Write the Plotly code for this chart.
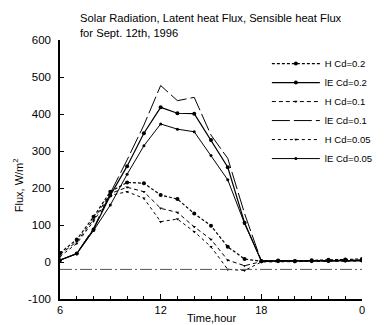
import plotly.graph_objects as go

hours = list(range(6, 25))
x_tickvals = [6, 12, 18, 24]
x_ticktext = ["6", "12", "18", "0"]
y_tickvals = [-100, 0, 100, 200, 300, 400, 500, 600]
y_ticktext = ["-100", "0", "100", "200", "300", "400", "500", "600"]

H_cd02 = [24, 61, 122, 190, 215, 213, 181, 170, 131, 98, 41, 8, 2, 4, 3, 5, 6, 7, 8]
lE_cd02 = [5, 23, 88, 180, 259, 348, 418, 402, 401, 330, 256, 106, 3, 3, 2, 3, 3, 4, 4]
H_cd01 = [20, 55, 115, 185, 202, 190, 145, 134, 95, 61, 5, -10, 1, 2, 1, 3, 4, 5, 6]
lE_cd01 = [5, 23, 91, 186, 276, 370, 477, 436, 445, 343, 280, 131, 2, 2, 2, 2, 3, 3, 3]
H_cd005 = [15, 50, 110, 180, 190, 172, 109, 116, 82, 41, -20, -23, 0, 1, 0, 1, 2, 2, 3]
lE_cd005 = [5, 22, 85, 154, 237, 314, 373, 359, 352, 288, 222, 104, 3, 3, 3, 3, 3, 4, 4]
ref_x = [6, 24]
ref_y = [-20, -20]

names = ["H Cd=0.2", "lE Cd=0.2", "H Cd=0.1", "lE Cd=0.1", "H Cd=0.05", "lE Cd=0.05"]
series = [H_cd02, lE_cd02, H_cd01, lE_cd01, H_cd005, lE_cd005]
styles = [
    dict(dash="3px,2px", width=1.2, msym="circle", msize=4, mode="lines+markers"),
    dict(dash="solid", width=1.2, msym="circle", msize=4, mode="lines+markers"),
    dict(dash="4px,3px", width=1.0, msym="triangle-down", msize=3, mode="lines+markers"),
    dict(dash="18px,4px", width=1.0, msym="circle", msize=1, mode="lines"),
    dict(dash="3px,3px", width=1.0, msym="triangle-down", msize=3, mode="lines+markers"),
    dict(dash="solid", width=1.0, msym="circle", msize=3, mode="lines+markers"),
]

fig = go.Figure()
for name, ys, st in zip(names, series, styles):
    fig.add_trace(go.Scatter(
        x=hours, y=ys, name=name, mode=st["mode"],
        line=dict(color="black", width=st["width"], dash=st["dash"]),
        marker=dict(symbol=st["msym"], size=st["msize"], color="black"),
    ))

fig.add_trace(go.Scatter(
    x=ref_x, y=ref_y, mode="lines", showlegend=False,
    line=dict(color="#555555", width=1, dash="12px,3px,2px,3px"),
))

fig.update_layout(
    width=386, height=325,
    margin=dict(l=60, r=8, t=40, b=26),
    paper_bgcolor="white", plot_bgcolor="white",
    font=dict(family="Liberation Sans, Arial, sans-serif", size=11, color="black"),
    showlegend=True,
    legend=dict(
        x=0.685, y=0.965, xanchor="left", yanchor="top",
        font=dict(size=9.5), bgcolor="rgba(0,0,0,0)", itemwidth=48,
        tracegroupgap=0,
    ),
    annotations=[
        dict(text="Solar Radiation, Latent heat Flux, Sensible heat Flux<br>for Sept. 12th, 1996",
             xref="paper", yref="paper", x=(79 - 60) / 318, y=1 + (40 - 10) / 259,
             xanchor="left", yanchor="top", align="left", showarrow=False,
             font=dict(size=11.2)),
        dict(text="Time,hour", xref="paper", yref="paper", x=0.5, y=-(318 - 299) / 259,
             xanchor="center", yanchor="middle", showarrow=False, font=dict(size=11)),
        dict(text="Flux, W/m<sup>2</sup>", xref="paper", yref="paper", x=-(60 - 16) / 318,
             y=(299 - 185) / 259, xanchor="center", yanchor="middle", textangle=-90,
             showarrow=False, font=dict(size=11)),
    ],
)

fig.update_xaxes(
    range=[6, 24], tickvals=x_tickvals, ticktext=x_ticktext,
    showgrid=False, zeroline=False, showline=True, linecolor="black", linewidth=1.5,
    ticks="inside", ticklen=5, tickcolor="black",
    minor=dict(dtick=1, ticks="inside", ticklen=3, tickcolor="black"),
    tickfont=dict(size=11),
)
fig.update_yaxes(
    range=[-100, 600], tickvals=y_tickvals, ticktext=y_ticktext,
    showgrid=False, zeroline=False, showline=True, linecolor="black", linewidth=1.5,
    ticks="inside", ticklen=4, tickcolor="black", ticklabelstandoff=5,
    tickfont=dict(size=11.5),
)

fig.write_html("out.html")
